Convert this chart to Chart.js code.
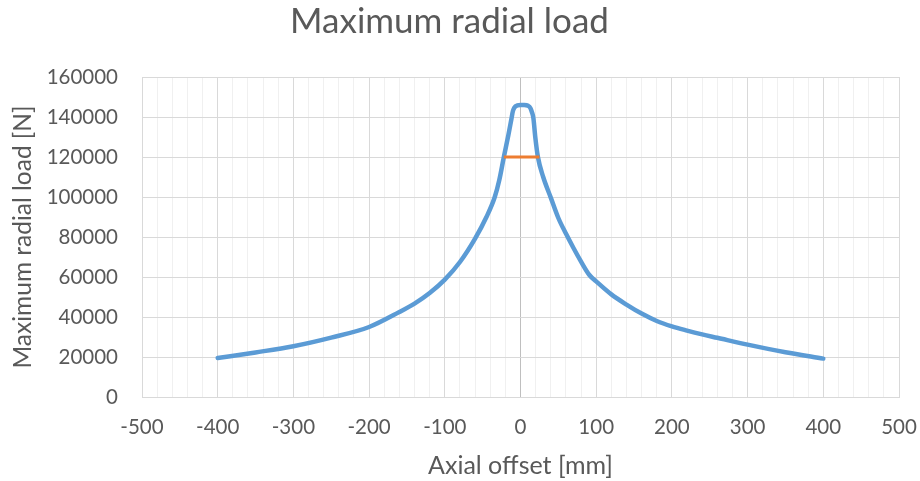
<!DOCTYPE html>
<html>
<head>
<meta charset="utf-8">
<script src="https://cdn.jsdelivr.net/npm/chart.js@4"></script>
<style>
  body { margin: 0; background: #fff; }
  #wrap { width: 920px; height: 481px; }
</style>
</head>
<body>
<div id="wrap"><canvas id="grafico" width="920" height="481"></canvas></div>
<script>
// valores
const offsets = [-400, -350, -300, -250, -200, -160, -140, -120, -100, -80, -60, -45, -34, -28, -22, -16, -12, -10, -8, -4, 0, 5, 10, 13, 15, 17, 19.5, 23, 30, 40, 50, 60, 70, 80, 91, 100, 120, 140, 160, 180, 200, 220, 240, 260, 300, 350, 400];
const loads = [19500, 22300, 25400, 29700, 35000, 42500, 46700, 52000, 58700, 67500, 79200, 90000, 100000, 108500, 120000, 131000, 139000, 143000, 144800, 145800, 146000, 146000, 145600, 144500, 142500, 139500, 130000, 120000, 110000, 99700, 89500, 81700, 74500, 67700, 61000, 57800, 51300, 46200, 41700, 38000, 35300, 33200, 31300, 29600, 26200, 22400, 19200];

// linha de referencia (laranja)
const refOffsets = [-22, 25];
const refLoads = [120000, 120000];

const xTicks = [-500, -400, -300, -200, -100, 0, 100, 200, 300, 400, 500];
const yTicks = [0, 20000, 40000, 60000, 80000, 100000, 120000, 140000, 160000];

const corTexto = '#595959';
const fonte = 'Lato';

function pares(xs, ys) {
  return xs.map((x, i) => ({ x: x, y: ys[i] }));
}

const ctx = document.getElementById('grafico');

new Chart(ctx, {
  type: 'scatter',
  data: {
    datasets: [
      {
        label: 'Limit',
        data: pares(refOffsets, refLoads),
        showLine: true,
        borderColor: '#ED7D31',
        borderWidth: 3,
        pointRadius: 0,
        borderCapStyle: 'butt',
      },
      {
        label: 'Maximum radial load',
        data: pares(offsets, loads),
        showLine: true,
        borderColor: '#5B9BD5',
        borderWidth: 4.5,
        pointRadius: 0,
        cubicInterpolationMode: 'monotone',
        borderCapStyle: 'round',
        borderJoinStyle: 'round',
      },
    ],
  },
  options: {
    responsive: false,
    animation: false,
    devicePixelRatio: 1,
    layout: { padding: { left: 0, right: 21, top: 0, bottom: 0 } },
    plugins: {
      legend: { display: false },
      tooltip: { enabled: false },
      title: {
        display: true,
        text: 'Maximum radial load',
        color: corTexto,
        font: { family: fonte, size: 35, weight: 'normal' },
        padding: { top: 1, bottom: 34 },
      },
    },
    scales: {
      x: {
        type: 'linear',
        min: xTicks[0],
        max: xTicks[xTicks.length - 1],
        afterFit: (scale) => {
          scale.height = 84;
          // sem isso o chart.js soma o padding dos ticks na margem direita
          scale.paddingLeft = 0;
          scale.paddingRight = 0;
        },
        ticks: {
          stepSize: 20,
          autoSkip: false,
          maxRotation: 0,
          padding: 18,
          color: corTexto,
          font: { family: fonte, size: 20.5 },
          // rotulos so nas centenas, mas mantem as linhas menores
          callback: (v) => (xTicks.includes(Math.round(v)) ? String(Math.round(v)) : ''),
        },
        grid: {
          drawTicks: false,
          lineWidth: 1,
          color: (c) => {
            const v = Math.round(c.tick ? c.tick.value : 1);
            if (v === 0) return '#bfbfbf';
            return xTicks.includes(v) ? '#d9d9d9' : '#f0f0f0';
          },
        },
        border: { color: '#d9d9d9', width: 1 },
        title: {
          display: true,
          text: 'Axial offset [mm]',
          color: corTexto,
          font: { family: fonte, size: 25 },
          padding: { top: 0, bottom: 0 },
        },
      },
      y: {
        min: yTicks[0],
        max: yTicks[yTicks.length - 1],
        afterFit: (scale) => { scale.width = 142; },
        ticks: {
          stepSize: 20000,
          padding: 24,
          color: corTexto,
          font: { family: fonte, size: 20.5 },
          callback: (v) => String(v),
        },
        grid: { drawTicks: false, color: '#d9d9d9', lineWidth: 1 },
        border: { color: '#d9d9d9', width: 1 },
        title: {
          display: true,
          text: 'Maximum radial load [N]',
          color: corTexto,
          font: { family: fonte, size: 24.5 },
          padding: { top: 8, bottom: 0 },
        },
      },
    },
  },
});
</script>
</body>
</html>
